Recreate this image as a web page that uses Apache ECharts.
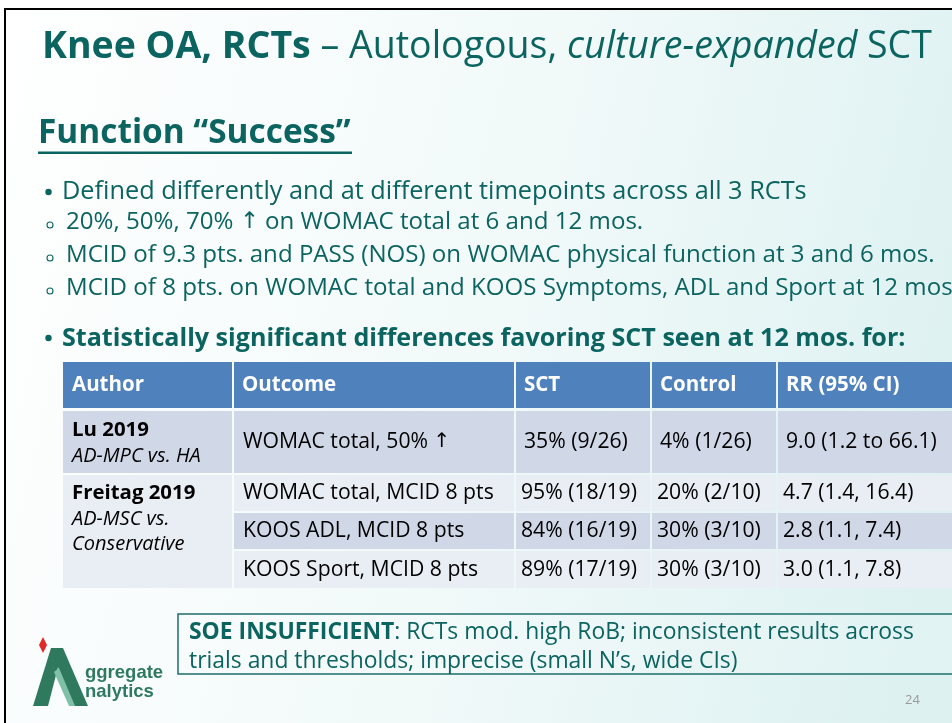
<!DOCTYPE html>
<html><head><meta charset="utf-8">
<script src="https://cdn.jsdelivr.net/npm/echarts@6/dist/echarts.min.js"></script>
<style>html,body{margin:0;padding:0;background:#fff}#c{width:952px;height:723px}</style>
</head><body><div id="c"></div>
<script>
// ---------- content ----------
const titleBold = "Knee OA, RCTs";
const titleRest1 = " – Autologous, ";
const titleItalic = "culture-expanded";
const titleRest2 = " SCT";
const heading = "Function “Success”";
const bullet1 = "Defined differently and at different timepoints across all 3 RCTs";
const subBullets = [
  "20%, 50%, 70% ↑ on WOMAC total at 6 and 12 mos.",
  "MCID of 9.3 pts. and PASS (NOS) on WOMAC physical function at 3 and 6 mos.",
  "MCID of 8 pts. on WOMAC total and KOOS Symptoms, ADL and Sport at 12 mos."
];
const bullet2 = "Statistically significant differences favoring SCT seen at 12 mos. for:";
const headers = ["Author", "Outcome", "SCT", "Control", "RR (95% CI)"];
const studies = ["Lu 2019", "Freitag 2019"];
const comparisons = [["AD-MPC vs. HA"], ["AD-MSC vs.", "Conservative"]];
const rowStudy = [0, 1, 1, 1];
const outcomes = ["WOMAC total, 50% ↑", "WOMAC total, MCID 8 pts", "KOOS ADL, MCID 8 pts", "KOOS Sport, MCID 8 pts"];
const sct = ["35% (9/26)", "95% (18/19)", "84% (16/19)", "89% (17/19)"];
const control = ["4% (1/26)", "20% (2/10)", "30% (3/10)", "30% (3/10)"];
const rr = ["9.0 (1.2 to 66.1)", "4.7 (1.4, 16.4)", "2.8 (1.1, 7.4)", "3.0 (1.1, 7.8)"];
const soeBold = "SOE INSUFFICIENT";
const soeLine1 = ": RCTs mod. high RoB; inconsistent results across";
const soeLine2 = "trials and thresholds; imprecise (small N’s, wide CIs)";
const logoWords = ["ggregate", "nalytics"];
const pageNum = "24";

// ---------- layout ----------
const FONT = "'Open Sans', sans-serif";
const ARROWFONT = "'DejaVu Sans', sans-serif";
const TEAL = "#0C6461";
const colEdges = [63, 233, 515, 651, 777, 1000];
const headerBand = [362, 408];
const rowBands = [[411, 473], [475, 511], [513, 549], [551, 588]];
const rowFill = ["#D0D8E8", "#E9EDF4", "#D0D8E8", "#E9EDF4"];

// render text with the ↑ glyph in a font that draws a full-size arrow
function arrowRich(str, size, color){
  const parts = str.split('↑');
  let out = '';
  parts.forEach((p,i)=>{ if(p) out += `{t|${p}}`; if(i<parts.length-1) out += '{a|↑}'; });
  return {text:out, rich:{t:{fontFamily:FONT,fontSize:size,fill:color}, a:{fontFamily:ARROWFONT,fontSize:size*0.95,fill:color}}};
}

const g = [];
// slide background
g.push({type:'rect', shape:{x:5,y:9,width:1000,height:800},
  style:{fill:new echarts.graphic.LinearGradient(0,0,1,0.3,[{offset:0,color:'#FFFFFF'},{offset:0.55,color:'#F1F9F9'},{offset:1,color:'#DDF1F1'}]), stroke:'#000', lineWidth:2}});
// title
g.push({type:'text', x:42, y:47, style:{
  text:`{b|${titleBold}}{n|${titleRest1}}{i|${titleItalic}}{n|${titleRest2}}`,
  verticalAlign:'middle', fill:TEAL,
  rich:{b:{fontFamily:FONT,fontSize:37.5,fontWeight:'bold',fill:TEAL},
        n:{fontFamily:FONT,fontSize:37.5,fill:TEAL},
        i:{fontFamily:FONT,fontSize:37.5,fontStyle:'italic',fill:TEAL}}}});
// heading
g.push({type:'text', x:38, y:133, style:{text:heading, fontFamily:FONT, fontSize:33.4, fontWeight:'bold', fill:TEAL, verticalAlign:'middle'}});
g.push({type:'rect', shape:{x:38,y:151.5,width:314,height:2.5}, style:{fill:TEAL}});
// bullets
g.push({type:'circle', shape:{cx:48.5,cy:192,r:3.2}, style:{fill:TEAL}});
g.push({type:'text', x:62, y:192, style:{text:bullet1, fontFamily:FONT, fontSize:25.3, fill:TEAL, verticalAlign:'middle'}});
const subY = [222, 255, 288];
subBullets.forEach((s,k)=>{
  g.push({type:'circle', shape:{cx:50,cy:subY[k]+3,r:3}, style:{fill:'none', stroke:TEAL, lineWidth:1.1}});
  const ar = arrowRich(s, 24.1, TEAL);
  g.push({type:'text', x:66, y:subY[k], style:{text:ar.text, rich:ar.rich, verticalAlign:'middle'}});
});
g.push({type:'circle', shape:{cx:48.5,cy:338,r:3.2}, style:{fill:TEAL}});
g.push({type:'text', x:62, y:339, style:{text:bullet2, fontFamily:FONT, fontSize:25.1, fontWeight:'bold', fill:TEAL, verticalAlign:'middle'}});

// table header
for (let c=0;c<headers.length;c++){
  const x0 = colEdges[c] + (c>0?1:0), x1 = colEdges[c+1] - 1;
  g.push({type:'rect', shape:{x:x0,y:headerBand[0],width:x1-x0,height:headerBand[1]-headerBand[0]}, style:{fill:'#4F81BD'}});
  g.push({type:'text', x:colEdges[c]+9, y:(headerBand[0]+headerBand[1])/2, style:{text:headers[c], fontFamily:FONT, fontSize:20.5, fontWeight:'bold', fill:'#fff', verticalAlign:'middle'}});
}
// author cells
const studyRows = studies.map((_,s)=>rowStudy.map((v,i)=>v===s?i:-1).filter(i=>i>=0));
studies.forEach((name,s)=>{
  const rws = studyRows[s];
  const top = rowBands[rws[0]][0], bot = rowBands[rws[rws.length-1]][1];
  g.push({type:'rect', shape:{x:colEdges[0],y:top,width:colEdges[1]-colEdges[0]-1,height:bot-top}, style:{fill:rowFill[rws[0]]}});
  const ty = rws.length===1 ? (top+bot)/2 - 12 : rowBands[rws[0]][0] + 18;
  g.push({type:'text', x:colEdges[0]+9, y:ty, style:{text:name, fontFamily:FONT, fontSize:20.4, fontWeight:'bold', fill:'#000', verticalAlign:'middle'}});
  comparisons[s].forEach((t,k)=>{
    g.push({type:'text', x:colEdges[0]+9, y:ty+26+k*25, style:{text:t, fontFamily:FONT, fontSize:20, fontStyle:'italic', fill:'#000', verticalAlign:'middle'}});
  });
});
// data cells
const cols = [outcomes, sct, control, rr];
rowBands.forEach((band,r)=>{
  cols.forEach((arr,k)=>{
    const c = k+1;
    const x0 = colEdges[c]+1, x1 = colEdges[c+1]-1;
    g.push({type:'rect', shape:{x:x0,y:band[0],width:x1-x0,height:band[1]-band[0]}, style:{fill:rowFill[r]}});
    const ar = arrowRich(arr[r], 21.2, '#000');
    g.push({type:'text', x:colEdges[c]+ (r===0 && c>1 ? 9 : 6) + (c===1?4:0), y:(band[0]+band[1])/2, style:{text:ar.text, rich:ar.rich, verticalAlign:'middle'}});
  });
});

// SOE box
g.push({type:'rect', shape:{x:178,y:614,width:800,height:60}, style:{fill:'rgba(255,255,255,0.15)', stroke:'#1E6E6A', lineWidth:1.5}});
g.push({type:'text', x:189, y:632, style:{text:`{b|${soeBold}}{n|${soeLine1}}`, verticalAlign:'middle',
  rich:{b:{fontFamily:FONT,fontSize:22.9,fontWeight:'bold',fill:TEAL},n:{fontFamily:FONT,fontSize:22.9,fill:TEAL}}}});
g.push({type:'text', x:189, y:661, style:{text:soeLine2, fontFamily:FONT, fontSize:22.9, fill:TEAL, verticalAlign:'middle'}});

// logo
g.push({type:'polygon', shape:{points:[[43,637],[47,645],[43,653],[39,645]]}, style:{fill:'#E02A2A'}});
g.push({type:'polygon', shape:{points:[[33,706],[51,648],[63,648],[48,706]]}, style:{fill:'#2F7A5F'}});
g.push({type:'polygon', shape:{points:[[51,648],[63,648],[88,706],[72,706]]}, style:{fill:'#2F7A5F'}});
g.push({type:'polygon', shape:{points:[[54,672],[59,668],[75,706],[69,706]]}, style:{fill:'#7FC0A8'}});
g.push({type:'text', x:85, y:673, style:{text:logoWords[0], fontFamily:"'Liberation Sans', Arial, sans-serif", fontSize:18.5, fontWeight:'bold', fill:'#2F7A5F', verticalAlign:'middle'}});
g.push({type:'text', x:85, y:692, style:{text:logoWords[1], fontFamily:"'Liberation Sans', Arial, sans-serif", fontSize:18.5, fontWeight:'bold', fill:'#2F7A5F', verticalAlign:'middle'}});
// page number
g.push({type:'text', x:905, y:700, style:{text:pageNum, fontFamily:FONT, fontSize:13, fill:'#9A9A9A', verticalAlign:'middle'}});

const chart = echarts.init(document.getElementById('c'), null, {renderer:'canvas'});
chart.setOption({animation:false, graphic:{elements:g}});
</script></body></html>
